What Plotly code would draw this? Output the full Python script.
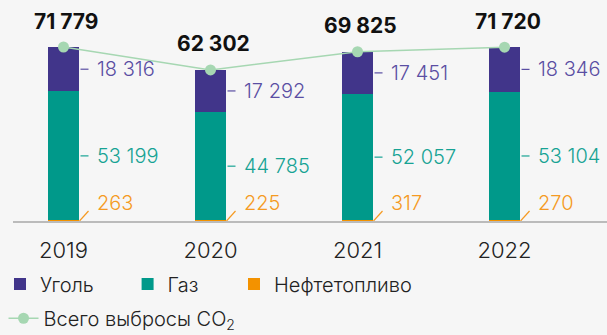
import plotly.graph_objects as go

# Emissions by fuel type, thousand tonnes CO2
years = ["2019", "2020", "2021", "2022"]
coal = [18316, 17292, 17451, 18346]
gas = [53199, 44785, 52057, 53104]
oil = [263, 225, 317, 270]
total = [71779, 62302, 69825, 71720]

C_COAL = "#41358a"
C_GAS = "#00998a"
C_OIL = "#f39200"
C_LINE = "#a6d7b2"
L_COAL = "#5a4ea3"
L_GAS = "#17a394"
L_OIL = "#f59a22"
BG = "#f6f6f6"
FONT = "Inter"


def fmt(v):
    return f"{v:,}".replace(",", " ")


BAR_W = 0.211

fig = go.Figure()
fig.add_trace(go.Bar(x=years, y=oil, name="Нефтетопливо", marker=dict(color=C_OIL, line_width=0),
                     width=BAR_W, legend="legend3", hoverinfo="skip"))
fig.add_trace(go.Bar(x=years, y=gas, name="Газ", marker=dict(color=C_GAS, line_width=0),
                     width=BAR_W, legend="legend2", hoverinfo="skip"))
fig.add_trace(go.Bar(x=years, y=coal, name="Уголь", marker=dict(color=C_COAL, line_width=0),
                     width=BAR_W, legend="legend", hoverinfo="skip"))
fig.add_trace(go.Scatter(x=years, y=total, name="Всего выбросы CO<sub>2</sub>", mode="lines+markers",
                         line=dict(color=C_LINE, width=1.5), marker=dict(color=C_LINE, size=11),
                         legend="legend4", hoverinfo="skip"))

annotations = []
shapes = []
# category positions are addressed by index (0..3) for annotations and shapes
for i in range(len(years)):
    annotations.append(dict(xref="x", yref="y", x=i, y=total[i], text=f"<b>{fmt(total[i])}</b>",
                            showarrow=False, yshift=26, xshift=3,
                            font=dict(family=FONT, size=21, color="#111")))
    y_coal = oil[i] + gas[i] + coal[i] / 2
    y_gas = oil[i] + gas[i] / 2
    annotations.append(dict(xref="x", yref="y", x=i, y=y_coal, text=fmt(coal[i]), showarrow=False,
                            xanchor="left", xshift=31,
                            font=dict(family=FONT, size=20, color=L_COAL, weight=300)))
    annotations.append(dict(xref="x", yref="y", x=i, y=y_gas, text=fmt(gas[i]), showarrow=False,
                            xanchor="left", xshift=31,
                            font=dict(family=FONT, size=20, color=L_GAS, weight=300)))
    annotations.append(dict(xref="x", yref="y", x=i, y=0, text=fmt(oil[i]), showarrow=False,
                            xanchor="left", xshift=31, yshift=18,
                            font=dict(family=FONT, size=20, color=L_OIL, weight=300)))
    for yv, col in ((y_coal, L_COAL), (y_gas, L_GAS)):
        shapes.append(dict(type="line", xref="x", yref="y", xsizemode="pixel", xanchor=i,
                           x0=17, x1=25, y0=yv, y1=yv, line=dict(color=col, width=1.2)))
    shapes.append(dict(type="line", xref="x", yref="y", xsizemode="pixel", xanchor=i,
                       ysizemode="pixel", yanchor=0, x0=16, x1=25, y0=0, y1=10,
                       line=dict(color=L_OIL, width=1.2)))

leg_font = dict(family=FONT, size=20, color="#222", weight=300)
common = dict(orientation="h", bgcolor="rgba(0,0,0,0)", font=leg_font,
              xref="container", yref="container", xanchor="left", yanchor="middle")

fig.update_layout(
    width=607, height=335,
    margin=dict(l=13, r=0, t=0, b=114),
    paper_bgcolor=BG, plot_bgcolor=BG,
    barmode="stack",
    showlegend=True,
    legend=dict(x=0.0, y=0.152, **common),
    legend2=dict(x=0.2102, y=0.152, **common),
    legend3=dict(x=0.3855, y=0.152, **common),
    legend4=dict(x=0.0058, y=0.05, **common),
    xaxis=dict(type="category", range=[-0.3435, 3.697], showgrid=False, zeroline=False,
               showline=True, linecolor="#bbbbbb", linewidth=1.5, ticks="",
               ticklabelstandoff=9, tickfont=dict(family=FONT, size=22, color="#222", weight=300)),
    yaxis=dict(range=[0, 91170], visible=False, showgrid=False, zeroline=False),
    annotations=annotations,
    shapes=shapes,
)

fig.write_html("out.html")
